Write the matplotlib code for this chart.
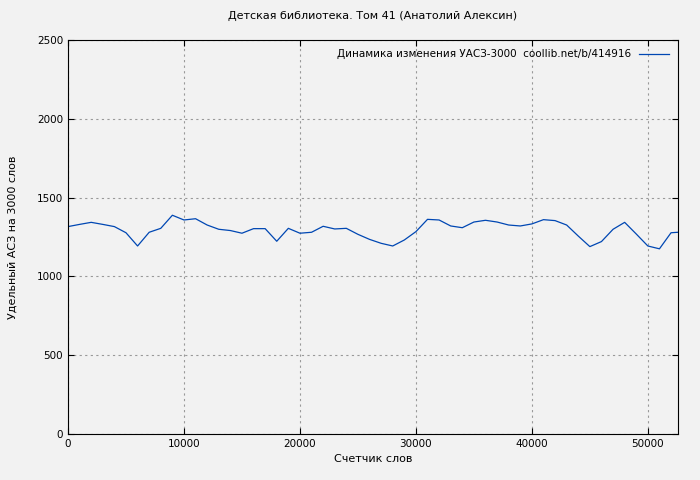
import matplotlib
matplotlib.use("Agg")
import matplotlib.pyplot as plt

vals = [1316, 1330, 1343, 1330, 1316, 1277, 1193, 1280, 1305, 1388,
        1358, 1366, 1326, 1299, 1291, 1274, 1303, 1303, 1223, 1305,
        1274, 1280, 1318, 1301, 1305, 1267, 1235, 1210, 1193, 1231,
        1284, 1362, 1358, 1320, 1309, 1345, 1356, 1345, 1326, 1320,
        1333, 1360, 1354, 1326, 1256, 1189, 1221, 1299, 1343, 1269,
        1193, 1175, 1277, 1280]
words = [i * 1000 for i in range(len(vals) - 1)] + [52600]

bg = "#f2f2f2"
fig = plt.figure(figsize=(7, 4.8), dpi=100, facecolor=bg)
ax = fig.add_axes([68/700, 1-434/480, 610/700, 394/480], facecolor=bg)
ax.plot(words, vals, color="#0047b3", lw=0.9,
        label="Динамика изменения УАСЗ-3000  coollib.net/b/414916")
ax.set_xlim(0, 52600)
ax.set_ylim(0, 2500)
ax.set_xticks([0, 10000, 20000, 30000, 40000, 50000])
ax.set_yticks([0, 500, 1000, 1500, 2000, 2500])
ax.grid(True, color="#999999", ls=(0, (2, 3)), lw=0.8)
ax.tick_params(labelsize=7.5, direction="in", length=4, top=True, right=True)
for s in ax.spines.values():
    s.set_color("black")
ax.set_xlabel("Счетчик слов", fontsize=8)
ax.set_ylabel("Удельный АСЗ на 3000 слов", fontsize=8, labelpad=14)
ax.set_title("Детская библиотека. Том 41 (Анатолий Алексин)", fontsize=8, pad=15)
ax.legend(loc="upper right", fontsize=7.5, frameon=False, markerfirst=False,
          handlelength=2.8)
fig.savefig("out.png", dpi=100, facecolor=bg)
